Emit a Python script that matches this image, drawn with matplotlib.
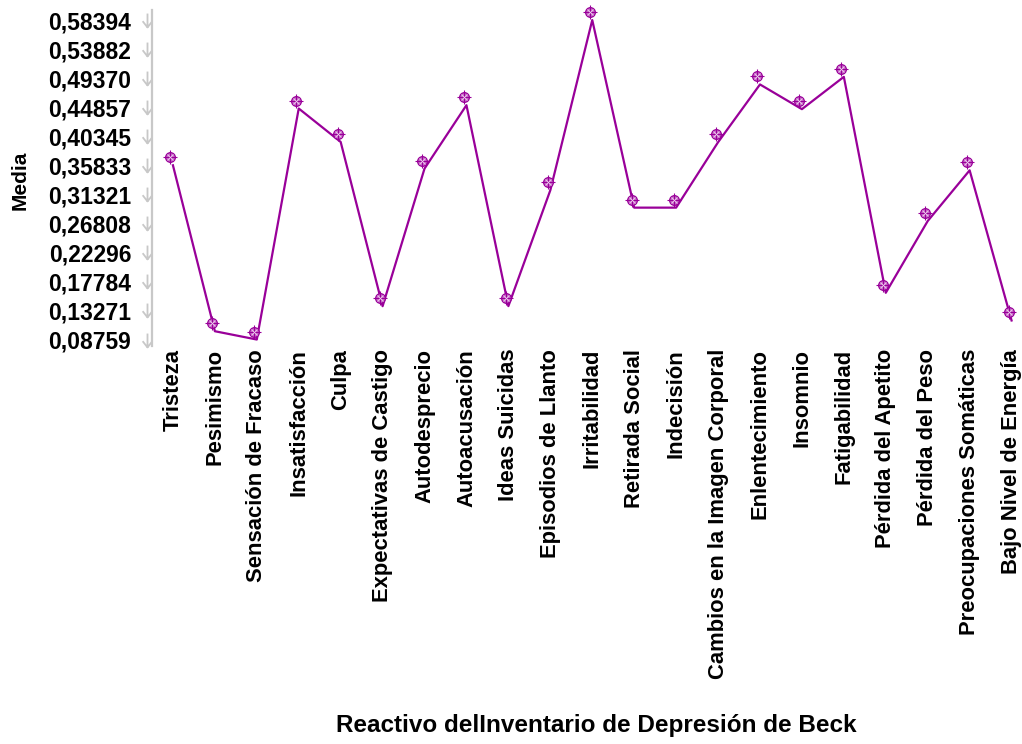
import numpy as np
import matplotlib
matplotlib.use('Agg')
import matplotlib.pyplot as plt
from matplotlib.path import Path
from matplotlib.transforms import ScaledTranslation, blended_transform_factory

plt.rcParams['font.family'] = ['Liberation Sans', 'DejaVu Sans']

# datos
reactivos = ['Tristeza', 'Pesimismo', 'Sensación de Fracaso', 'Insatisfacción', 'Culpa',
             'Expectativas de Castigo', 'Autodesprecio', 'Autoacusación', 'Ideas Suicidas',
             'Episodios de Llanto', 'Irritabilidad', 'Retirada Social', 'Indecisión',
             'Cambios en la Imagen Corporal', 'Enlentecimiento', 'Insomnio', 'Fatigabilidad',
             'Pérdida del Apetito', 'Pérdida del Peso', 'Preocupaciones Somáticas',
             'Bajo Nivel de Energía']
medias = [0.3583, 0.1005, 0.08759, 0.4465, 0.3946, 0.1394, 0.3532, 0.4517, 0.1395, 0.3195,
          0.58394, 0.2925, 0.2925, 0.3941, 0.4839, 0.4455, 0.4957, 0.1602, 0.2717, 0.3505,
          0.1172]
ytick_labels = ['0,08759', '0,13271', '0,17784', '0,22296', '0,26808', '0,31321',
                '0,35833', '0,40345', '0,44857', '0,49370', '0,53882', '0,58394']
yticks = [float(s.replace(',', '.')) for s in ytick_labels]

purple = '#990099'
grey = '#c8c8c8'

fig = plt.figure(figsize=(10.22, 7.44), dpi=100)
ax = fig.add_axes([0.1487, 0.5349, 0.8493, 0.4516])

x = np.arange(len(reactivos))
ax.plot(x, medias, color=purple, lw=1.6, clip_on=False, zorder=3)

# los marcadores salen un poco desplazados de los vertices de la linea
off = ax.transData + ScaledTranslation(-0.025, 0.08, fig.dpi_scale_trans)
ax.plot(x, medias, ls='none', marker='o', ms=7, mfc='#c86ec8', mec=purple, mew=0.9,
        transform=off, clip_on=False, zorder=4)
ax.plot(x, medias, ls='none', marker='+', ms=10, mec=purple, mew=0.8,
        transform=off, clip_on=False, zorder=5)
ax.plot(x, medias, ls='none', marker='x', ms=5, mec='#f0d0f0', mew=0.6,
        transform=off, clip_on=False, zorder=5)

ax.set_xlim(-0.5, 20.2)
ax.set_ylim(0.07749, 0.59948)

for s in ['top', 'right', 'bottom']:
    ax.spines[s].set_visible(False)
ax.spines['left'].set_color(grey)
ax.spines['left'].set_linewidth(1.6)

# marcas del eje y en forma de flecha
arrow = Path([(0, 1), (0, -1), (-0.7, -0.1), (0, -1), (0.7, -0.1)],
             [Path.MOVETO, Path.LINETO, Path.MOVETO, Path.LINETO, Path.LINETO])
tr = blended_transform_factory(ax.transAxes, ax.transData) + \
    ScaledTranslation(-0.05, 0, fig.dpi_scale_trans)
ax.plot([0] * len(yticks), yticks, ls='none', marker=arrow, ms=10, mec=grey, mew=1.3,
        mfc='none', transform=tr, clip_on=False)

ax.set_yticks(yticks)
ax.set_yticklabels(ytick_labels, fontsize=16.5, fontweight='bold')
ax.tick_params(axis='y', length=0, pad=15)

ax.set_xticks(x)
ax.set_xticklabels(reactivos, rotation=90, fontsize=15.8, fontweight='bold')
ax.tick_params(axis='x', length=0, pad=2)

fig.text(0.0196, 0.758, 'Media', rotation=90, fontsize=15, fontweight='bold',
         ha='center', va='center')
fig.text(0.583, 0.025, 'Reactivo delInventario de Depresión de Beck', fontsize=17.5,
         fontweight='bold', ha='center', va='center')

fig.savefig('out.png', dpi=100)
